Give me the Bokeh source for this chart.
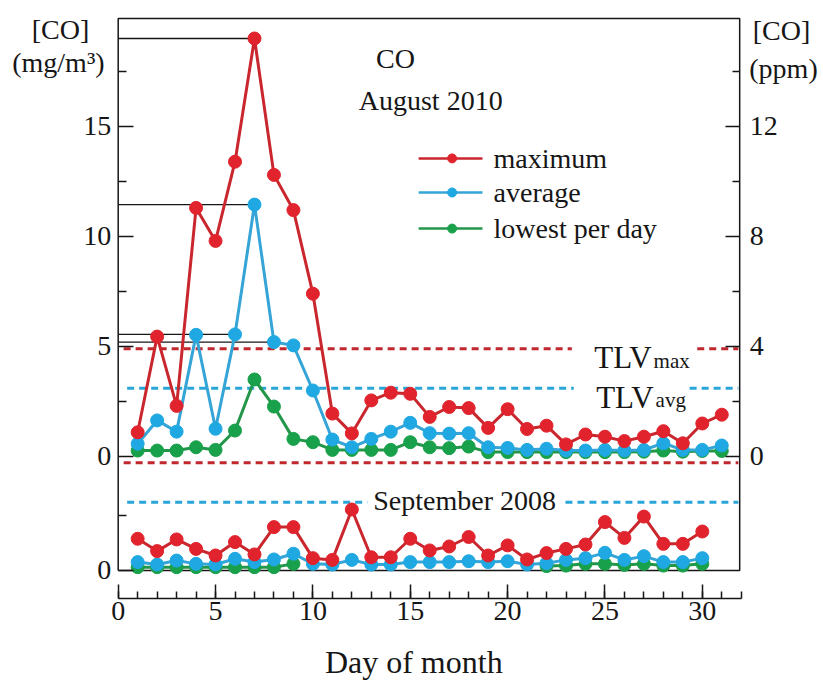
import numpy as np
from bokeh.plotting import figure
from bokeh.models import Range1d, LinearAxis, FixedTicker, Label
from bokeh.embed import file_html
from bokeh.resources import INLINE

FONT = "Liberation Serif"

# ---------------- data (mg/m3) ----------------
days_aug = list(range(1, 32))
max_aug = [1.1, 5.45, 2.3, 11.3, 9.8, 13.4, 19.0, 12.8, 11.2, 7.4, 1.95, 1.05, 2.55, 2.9, 2.85,
           1.8, 2.25, 2.2, 1.3, 2.15, 1.25, 1.4, 0.55, 1.0, 0.9, 0.7, 0.9, 1.15, 0.6, 1.5, 1.9]
avg_aug = [0.58, 1.64, 1.13, 5.53, 1.26, 5.55, 11.45, 5.2, 5.05, 3.0, 0.77, 0.42, 0.8, 1.13, 1.53,
           1.06, 1.04, 1.06, 0.42, 0.39, 0.3, 0.35, 0.27, 0.27, 0.3, 0.27, 0.3, 0.6, 0.3, 0.3, 0.5]
low_aug = [0.27, 0.27, 0.27, 0.42, 0.3, 1.18, 3.5, 2.27, 0.8, 0.65, 0.3, 0.3, 0.3, 0.3, 0.65,
           0.42, 0.38, 0.45, 0.2, 0.2, 0.2, 0.2, 0.2, 0.2, 0.2, 0.2, 0.22, 0.27, 0.22, 0.25, 0.25]

days_sep = list(range(1, 31))
max_sep = [1.44, 0.88, 1.41, 0.98, 0.68, 1.29, 0.73, 1.97, 1.97, 0.56, 0.48, 2.77, 0.6, 0.6, 1.44,
           0.91, 1.09, 1.52, 0.68, 1.14, 0.5, 0.79, 0.98, 1.18, 2.2, 1.48, 2.45, 1.21, 1.21, 1.77]
avg_sep = [0.38, 0.27, 0.45, 0.3, 0.27, 0.53, 0.38, 0.5, 0.76, 0.3, 0.27, 0.48, 0.27, 0.27, 0.38,
           0.38, 0.38, 0.42, 0.38, 0.42, 0.27, 0.33, 0.48, 0.56, 0.8, 0.48, 0.65, 0.38, 0.38, 0.56]
low_sep = [0.15, 0.15, 0.15, 0.15, 0.15, 0.15, 0.15, 0.15, 0.3, np.nan, np.nan, np.nan, np.nan,
           np.nan, np.nan, np.nan, np.nan, np.nan, np.nan, np.nan, np.nan, 0.2, 0.22, 0.3, 0.3,
           0.25, 0.3, 0.22, 0.22, 0.3]

TLV_MAX = 4.9
TLV_AVG = 3.1
PPM_PER_MG = 0.8

x_major = [0, 5, 10, 15, 20, 25, 30]
x_minor = list(range(0, 33))
mg_major = [0, 5, 10, 15]
mg_minor = [2.5, 7.5, 12.5, 17.5]
ppm_major = [0, 4, 8, 12]
ppm_minor = [2, 6, 10, 14]

# ---------------- colours ----------------
RED_L, RED_D = "#c9262d", "#e0232d"
BLUE_L, BLUE_D = "#35a4d6", "#1fa8e2"
GREEN_L, GREEN_D = "#23964a", "#18a04a"
INK = "#161616"

# ---------------- figure: the frame covers the whole canvas ----------------
X0, X1 = -6.045, 36.225      # day units across the whole canvas
Y0, Y1 = -10.182, 20.727     # mg/m3 units (upper panel) across the whole canvas
BOX_TOP = 19.91              # top edge of the drawn frame
BOX_RIGHT = 31.92            # right edge of the drawn frame
SEP_ZERO = -5.18             # where the September-2008 zero sits on the upper scale
XAXIS_AT = -6.45             # position of the detached day axis

p = figure(width=823, height=680,
           x_range=Range1d(X0, X1), y_range=Range1d(Y0, Y1),
           x_axis_location=None, y_axis_location=None,
           output_backend="svg", toolbar_location=None,
           min_border_left=0, min_border_right=0, min_border_top=0, min_border_bottom=0)
p.outline_line_color = None
p.grid.visible = False
p.extra_y_ranges = {"sep": Range1d(Y0 - SEP_ZERO, Y1 - SEP_ZERO),
                    "ppm": Range1d(Y0 * PPM_PER_MG, Y1 * PPM_PER_MG)}


def style_axis(a, tin, tmin, standoff):
    a.major_tick_in, a.major_tick_out = tin, 0
    a.minor_tick_in, a.minor_tick_out = tmin, 0
    a.major_tick_line_width = 1.5
    a.minor_tick_line_width = 1.5
    a.major_tick_line_color = INK
    a.minor_tick_line_color = INK
    a.major_label_text_font = FONT
    a.major_label_text_font_size = "28px"
    a.major_label_text_color = INK
    a.major_label_standoff = standoff


# day axis (detached, below the frame)
xa = LinearAxis(ticker=FixedTicker(ticks=x_major, minor_ticks=x_minor),
                fixed_location=XAXIS_AT, bounds=(0, 32))
style_axis(xa, 14, 7, 4)
xa.axis_line_width = 1.5
xa.axis_line_color = INK
p.add_layout(xa, "below")

# left axis (mg/m3) - upper panel ticks plus the September zero
ya = LinearAxis(ticker=FixedTicker(ticks=[SEP_ZERO] + mg_major, minor_ticks=[SEP_ZERO + 2.5] + mg_minor),
                fixed_location=0, bounds=(SEP_ZERO, BOX_TOP))
ya.major_label_overrides = {SEP_ZERO: "0"}
ya.axis_line_color = None
style_axis(ya, 15, 8, 7)
p.add_layout(ya, "left")

# right axis (ppm)
ra = LinearAxis(y_range_name="ppm", ticker=FixedTicker(ticks=ppm_major, minor_ticks=ppm_minor),
                fixed_location=BOX_RIGHT)
ra.axis_line_color = None
style_axis(ra, 14, 7, 10)
p.add_layout(ra, "right")

# frame box (ends at the September zero line)
p.line([0, 0, BOX_RIGHT, BOX_RIGHT, 0], [SEP_ZERO, BOX_TOP, BOX_TOP, SEP_ZERO, SEP_ZERO],
       line_color=INK, line_width=1.5)

# TLV dashed lines (upper panel, August 2010)
p.segment(x0=[0.28, 29.74], x1=[23.3, 31.85], y0=[TLV_MAX] * 2, y1=[TLV_MAX] * 2,
          line_color="#c0282e", line_width=3, line_dash="7 5")
p.segment(x0=[0.46, 29.35], x1=[23.4, 31.85], y0=[TLV_AVG] * 2, y1=[TLV_AVG] * 2,
          line_color="#2aa5d8", line_width=3, line_dash="7 5")
# TLV dashed lines (lower panel, September 2008)
p.segment(x0=[0.28], x1=[31.85], y0=[TLV_MAX], y1=[TLV_MAX], y_range_name="sep",
          line_color="#c0282e", line_width=3, line_dash="7 5")
p.segment(x0=[0.46, 22.97], x1=[12.8, 31.85], y0=[TLV_AVG] * 2, y1=[TLV_AVG] * 2, y_range_name="sep",
          line_color="#2aa5d8", line_width=3, line_dash="7 5")

# black guide lines from the left axis to the peaks
gy = [max_aug[6], avg_aug[6], avg_aug[5], avg_aug[7]]
gx = [days_aug[6], days_aug[6], days_aug[5], days_aug[7]]
p.segment(x0=[0] * 4, x1=gx, y0=gy, y1=gy, line_color=INK, line_width=1.3)


# series
def series(x, y, lc, dc, rng="default"):
    y = np.array(y, dtype=float)
    p.line(x, y, line_color=lc, line_width=3, y_range_name=rng)
    p.scatter(x, y, size=13, fill_color=dc, line_color=dc, y_range_name=rng)


series(days_aug, low_aug, GREEN_L, GREEN_D)
series(days_aug, avg_aug, BLUE_L, BLUE_D)
series(days_aug, max_aug, RED_L, RED_D)
series(days_sep, low_sep, GREEN_L, GREEN_D, "sep")
series(days_sep, avg_sep, BLUE_L, BLUE_D, "sep")
series(days_sep, max_sep, RED_L, RED_D, "sep")

# legend (drawn by hand)
leg_y = [13.55, 12.0, 10.36]
leg_cols = [(RED_L, RED_D), (BLUE_L, BLUE_D), (GREEN_L, GREEN_D)]
leg_txt = ["maximum", "average", "lowest per day"]
for yy, (lc, dc), t in zip(leg_y, leg_cols, leg_txt):
    p.segment(x0=[15.43], x1=[18.71], y0=[yy], y1=[yy], line_color=lc, line_width=2.5)
    p.scatter([17.15], [yy], size=9, fill_color=dc, line_color=dc)
    p.add_layout(Label(x=19.28, y=yy, text=t, text_font=FONT, text_font_size="28px",
                       text_baseline="middle", text_align="left", text_color=INK))


def lab(x, y, t, size="28px", align="center", base="middle", rng="default"):
    p.add_layout(Label(x=x, y=y, text=t, text_font=FONT, text_font_size=size, y_range_name=rng,
                       text_align=align, text_baseline=base, text_color=INK))


lab(-2.96, 19.41, "[CO]")
lab(-3.07, 17.9, "(mg/m³)")
lab(34.07, 19.36, "[CO]")
lab(34.17, 17.64, "(ppm)")
lab(14.24, 18.09, "CO")
lab(16.05, 16.18, "August 2010")
lab(24.45, 4.51, "TLV", size="31px", align="left", base="alphabetic")
lab(27.5, 4.36, "max", size="21px", align="left", base="alphabetic")
lab(24.55, 2.7, "TLV", size="31px", align="left", base="alphabetic")
lab(27.6, 2.57, "avg", size="21px", align="left", base="alphabetic")
lab(13.1, -2.0, "September 2008", align="left")
lab(15.18, -9.36, "Day of month", size="32px")

open("out.html", "w").write(file_html(p, INLINE))
